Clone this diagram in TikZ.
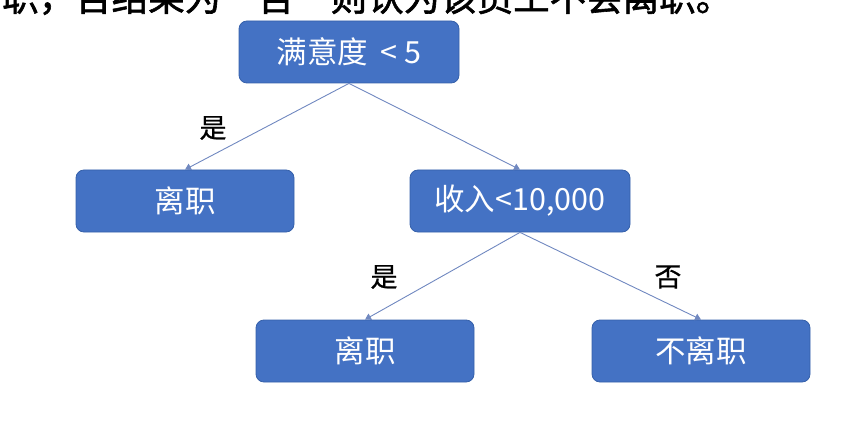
\documentclass[tikz,border=0pt]{standalone}
\usepackage{fontspec}
\setmainfont{Noto Sans CJK SC}
\newfontfamily\heavycjk[FakeBold=1.6]{Noto Sans CJK SC}
\newfontfamily\midcjk[FakeBold=0.6]{Noto Sans CJK SC}
\usetikzlibrary{arrows.meta}
\definecolor{boxblue}{HTML}{4472C4}
\definecolor{boxedge}{HTML}{3560AA}
\definecolor{linkblue}{HTML}{7088C0}
\begin{document}
\begin{tikzpicture}[x=1pt,y=-1pt,
  decision/.style={draw=boxedge, line width=0.8pt, fill=boxblue, rounded corners=8pt,
    text=white, minimum width=218pt, minimum height=62pt, inner sep=0pt,
    font=\fontsize{30.5}{34}\selectfont},
  link/.style={draw=linkblue, line width=0.9pt, -{Triangle[width=7pt,length=6pt]}},
  answer/.style={font=\midcjk\fontsize{27}{30}\selectfont, text=black, inner sep=0pt}]
\useasboundingbox (0,0) rectangle (864,422);
\clip (0,0) rectangle (864,422);

% sentence running above the tree (its upper part lies outside the frame)
\node[anchor=base west, font=\heavycjk\fontsize{36.5}{40}\selectfont, inner sep=0pt] (caption)
  at (2,11) {职，否结果为“否”则认为该员工不会离职。};

% decision tree
\node[decision, minimum width=220pt] (root) at (349,52) {满意度\hspace{5pt} < 5};
\node[decision] (leaveA) at (185,201) {离职};
\node[decision, minimum width=220pt] (income) at (520,201) {收入<10,000};
\node[decision] (leaveB) at (365,351) {离职};
\node[decision] (stay) at (701,351) {不离职};

\draw[link] (root.south) -- (leaveA.north);
\draw[link] (root.south) -- (income.north);
\draw[link] (income.south) -- (leaveB.north);
\draw[link] (income.south) -- (stay.north);

% branch answers
\node[answer] (yesA) at (213,128) {是};
\node[answer] (yesB) at (384,277) {是};
\node[answer] (noB) at (668,277) {否};
\end{tikzpicture}
\end{document}
